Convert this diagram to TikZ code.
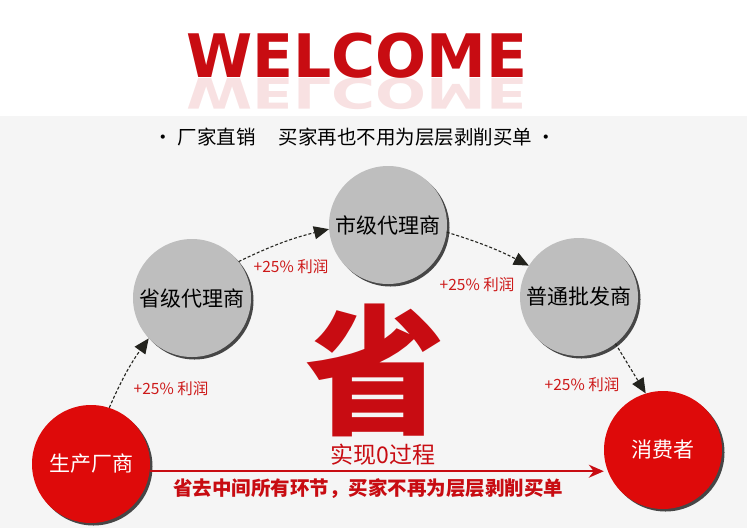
\documentclass[tikz,border=0pt]{standalone}
\usepackage{fontspec}
\setmainfont{Noto Sans CJK SC}
\newfontfamily\welcomefont{DejaVu Sans}
\usetikzlibrary{arrows.meta,positioning,shadows}

\definecolor{pagegray}{RGB}{245,245,245}
\definecolor{agentgray}{RGB}{190,190,190}
\definecolor{endred}{RGB}{222,10,10}
\definecolor{bigred}{RGB}{200,12,18}
\definecolor{gainred}{RGB}{205,25,25}
\definecolor{hopdark}{RGB}{35,35,30}

\begin{document}
\begin{tikzpicture}[
    x=1pt, y=-1pt,
    agent/.style={circle, fill=agentgray, minimum size=118pt, inner sep=0pt, font=\fontsize{21}{24}\selectfont,
        drop shadow={shadow xshift=2.5pt, shadow yshift=-2.5pt, fill=black!80, opacity=.9}},
    endpt/.style={agent, fill=endred, text=white},
    hop/.style={densely dashed, line width=1.1pt, draw=hopdark, -{Triangle[length=15pt, width=13pt, fill=hopdark]}},
    gain/.style={text=gainred, font=\fontsize{15.5}{18}\selectfont},
    redarrow/.style={draw=bigred, line width=2pt, -{Stealth[length=15pt, width=13pt]}}
]
\useasboundingbox (0,0) rectangle (747,528);
\fill[white] (0,0) rectangle (747,528);
\fill[pagegray] (0,116) rectangle (747,528);

% heading and its mirror image
\node[font=\welcomefont\bfseries\fontsize{60}{60}\selectfont, text=bigred, anchor=base, inner sep=0pt] (welcome) at (357,77) {WELCOME};
\node[font=\welcomefont\bfseries\fontsize{60}{60}\selectfont, text=bigred, anchor=base, inner sep=0pt,
    yscale=-0.7, transform shape, opacity=0.12] (mirror) at (357,78) {WELCOME};
\node[font=\fontsize{19.5}{22}\selectfont] (motto) at (355,137) {• 厂家直销\hspace{1.2em}买家再也不用为层层剥削买单 •};

% the chain of dealers
\node[endpt] (maker) at (91,464) {生产厂商};
\node[agent] (prov) at (192,298) {省级代理商};
\node[agent] (city) at (388,225) {市级代理商};
\node[agent] (whole) at (579,297) {普通批发商};
\node[endpt] (buyer) at (663,450) {消费者};

\draw[hop] (maker.72) to[bend left=6] (prov.223);
\draw[hop] (prov.38) to[bend left=6] (city.184);
\draw[hop] (city.-7) to[bend left=5] (whole.148);
\draw[hop] (whole.-52) -- (buyer.107);

\node[gain] (g1) at (171,389) {+25\% 利润};
\node[gain] (g2) at (291,267) {+25\% 利润};
\node[gain] (g3) at (477,285) {+25\% 利润};
\node[gain] (g4) at (582,385) {+25\% 利润};

% direct route
\node[font=\bfseries\fontsize{140}{140}\selectfont, text=bigred] (sheng) at (375,370) {省};
\node[font=\fontsize{23}{26}\selectfont, text=bigred] (zero) at (383,455) {实现0过程};
\draw[redarrow] (maker.-7) -- (maker.-7 -| buyer.west);
\node[font=\bfseries\fontsize{19.5}{22}\selectfont, text=bigred] (slogan) at (368,489) {省去中间所有环节，买家不再为层层剥削买单};
\end{tikzpicture}
\end{document}
